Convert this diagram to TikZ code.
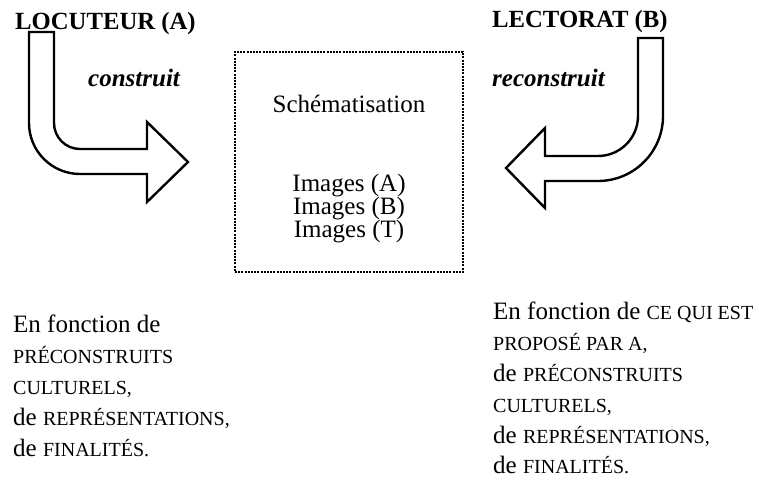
\documentclass[tikz,border=0pt]{standalone}
\usepackage{fontspec}
\setmainfont{Liberation Serif}
\newcommand{\petitcap}[1]{{\fontsize{20}{20}\selectfont #1}}

\begin{document}
\begin{tikzpicture}[x=1pt, y=1pt, inner sep=0pt,
    fleche/.style={line width=2.4pt, line join=miter, fill=white},
    titre/.style={anchor=base west, font=\fontsize{24.7}{29}\selectfont\bfseries},
    verbe/.style={anchor=base west, font=\fontsize{25}{29}\selectfont\bfseries\itshape},
    texte/.style={font=\fontsize{25}{30.8}\selectfont}]
    \useasboundingbox (0, 0) rectangle (759, -479);

    % Locuteur
    \node[titre] (locuteur) at (15, -29) {LOCUTEUR (A)};
    \node[verbe] (construit) at (88, -86) {construit};
    \draw[fleche] (29, -32) -- (29, -123) arc [start angle=180, end angle=270, radius=51]
      -- (147, -174) -- (147, -202) -- (188, -162) -- (147, -122) -- (147, -149)
      -- (80, -149) arc [start angle=270, end angle=180, radius=26] -- (54, -32) -- cycle;

    % Lectorat
    \node[titre] (lectorat) at (492, -27) {LECTORAT (B)};
    \node[verbe] (reconstruit) at (492, -86) {reconstruit};
    \draw[fleche] (663, -38) -- (663, -116) arc [start angle=0, end angle=-90, radius=65]
      -- (545, -181) -- (545, -208) -- (506, -168) -- (545, -128) -- (545, -156)
      -- (598, -156) arc [start angle=-90, end angle=0, radius=40] -- (638, -38) -- cycle;

    % Schematisation
    \node[draw, line width=2pt, dash pattern=on 2pt off 1.2pt, minimum width=228, minimum height=220] (cadre) at (349, -162) {};
    \node[texte, anchor=base] (schema) at (cadre.center |- 0, -112) {Schématisation};
    \node[texte, anchor=base] (imagesA) at (cadre.center |- 0, -191) {Images (A)};
    \node[texte, anchor=base] (imagesB) at (cadre.center |- 0, -214) {Images (B)};
    \node[texte, anchor=base] (imagesT) at (cadre.center |- 0, -237) {Images (T)};

    % En fonction de
    \node[texte, anchor=north west, align=left] (fonctionA) at (13, -315)
      {En fonction de\\ \petitcap{PRÉCONSTRUITS}\\ \petitcap{CULTURELS,}\\
       de \petitcap{REPRÉSENTATIONS,}\\ de \petitcap{FINALITÉS.}};
    \node[texte, anchor=north west, align=left] (fonctionB) at (493, -302)
      {En fonction de \petitcap{CE QUI EST}\\ \petitcap{PROPOSÉ PAR A,}\\ de \petitcap{PRÉCONSTRUITS}\\
       \petitcap{CULTURELS,}\\ de \petitcap{REPRÉSENTATIONS,}\\ de \petitcap{FINALITÉS.}};
  \end{tikzpicture}
\end{document}
